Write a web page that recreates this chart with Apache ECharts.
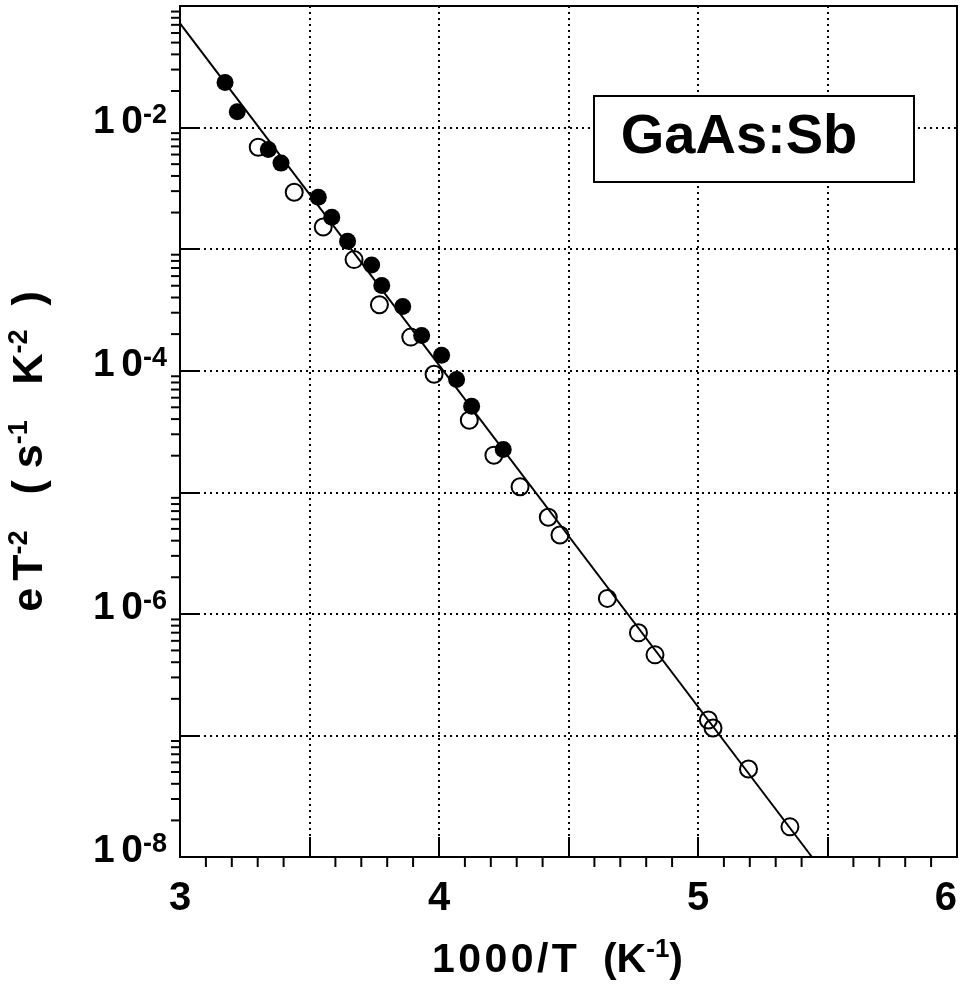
<!DOCTYPE html>
<html><head><meta charset="utf-8">
<script src="https://cdn.jsdelivr.net/npm/echarts@6/dist/echarts.min.js"></script>
<style>html,body{margin:0;padding:0;background:#fff}#c{width:966px;height:989px}</style>
</head><body><div id="c"></div>
<script>
// ---- data ----
const filledX = [3.174, 3.221, 3.341, 3.390, 3.534, 3.586, 3.647, 3.740, 3.779, 3.860, 3.933, 4.010, 4.068, 4.126, 4.248];
const filledY = [2.35e-2, 1.35e-2, 6.6e-3, 5.1e-3, 2.67e-3, 1.83e-3, 1.16e-3, 7.4e-4, 5.03e-4, 3.38e-4, 1.95e-4, 1.34e-4, 8.45e-5, 5.1e-5, 2.25e-5];
const openX = [3.302, 3.441, 3.553, 3.672, 3.770, 3.891, 3.981, 4.117, 4.212, 4.313, 4.422, 4.467, 4.650, 4.770, 4.834, 5.040, 5.058, 5.195, 5.355];
const openY = [6.9e-3, 2.94e-3, 1.52e-3, 8.2e-4, 3.49e-4, 1.89e-4, 9.35e-5, 3.92e-5, 2.02e-5, 1.11e-5, 6.23e-6, 4.45e-6, 1.34e-6, 6.98e-7, 4.6e-7, 1.34e-7, 1.15e-7, 5.3e-8, 1.77e-8];
const fitX = [3.0, 5.44];
const fitY = [7.2e-2, 1.0e-8];
// ---- tick definitions ----
const xTickLabels = [3, 4, 5, 6];
const xMinorTicks = [3.1, 3.2, 3.3, 3.4, 3.6, 3.7, 3.8, 3.9, 4.1, 4.2, 4.3, 4.4, 4.6, 4.7, 4.8, 4.9, 5.1, 5.2, 5.3, 5.4, 5.6, 5.7, 5.8, 5.9];
const yLabelExps = [-8, -6, -4, -2];
const yDecades = [-8, -7, -6, -5, -4, -3, -2];
const yMinorMultiples = [2, 3, 4, 5, 6, 7, 8, 9];
const boxText = 'GaAs:Sb';

const FONT = "'Liberation Sans', Arial, Helvetica, sans-serif";
const H = '\u200A';
const pairs = (xs, ys) => xs.map((x, i) => [x, ys[i]]);
const yMinorData = [];
yDecades.forEach(d => yMinorMultiples.forEach(m => yMinorData.push([3, m * Math.pow(10, d)])));
const xMinorData = xMinorTicks.map(v => [v, 1e-8]);

const chart = echarts.init(document.getElementById('c'), null, {renderer: 'canvas'});
const dotted = {color: '#000', width: 2, type: [2, 4]};
chart.setOption({
  animation: false,
  backgroundColor: '#fff',
  grid: {left: 180, right: 9, top: 6, bottom: 132, outerBoundsMode: 'none', containLabel: false,
         show: true, borderColor: '#000', borderWidth: 2, backgroundColor: 'transparent'},
  xAxis: {
    type: 'value', min: 3, max: 6, interval: 0.5,
    axisLine: {show: true, lineStyle: {color: '#000', width: 2}},
    axisTick: {show: true, inside: true, length: 20, lineStyle: {color: '#000', width: 2}},
    splitLine: {show: true, lineStyle: dotted},
    axisLabel: {
      margin: 22, color: '#000', fontSize: 40, fontWeight: 'bold', fontFamily: FONT,
      alignMaxLabel: 'right',
      formatter: v => xTickLabels.indexOf(Math.round(v * 10) / 10) >= 0 ? String(v) : ''
    },
    name: '{b|1' + H + '0' + H + '0' + H + '0' + H + '/' + H + 'T  ' + H + '(K}{s|-1}{b|)}',
    nameLocation: 'middle', nameGap: 80,
    nameTextStyle: {
      padding: [0, 22, 0, 0],
      rich: {
        b: {fontSize: 41, fontWeight: 'bold', fontFamily: FONT, color: '#000', verticalAlign: 'bottom', lineHeight: 44},
        s: {fontSize: 26, fontWeight: 'bold', fontFamily: FONT, color: '#000', verticalAlign: 'top', lineHeight: 26}
      }
    }
  },
  yAxis: {
    type: 'log', logBase: 10, min: 1e-8, max: 1e-1, splitNumber: 7,
    axisLine: {show: true, lineStyle: {color: '#000', width: 2}},
    axisTick: {show: true, inside: true, length: 20, lineStyle: {color: '#000', width: 2}},
    splitLine: {show: true, lineStyle: dotted},
    axisLabel: {
      margin: 13, color: '#000', padding: [0, 0, 12, 0],
      formatter: v => {
        const e = Math.round(Math.log10(v));
        return yLabelExps.indexOf(e) >= 0 ? '{b|1' + H + H + '0}{s|' + e + '}' : '';
      },
      rich: {
        b: {fontSize: 39, fontWeight: 'bold', fontFamily: FONT, color: '#000', verticalAlign: 'bottom', lineHeight: 40},
        s: {fontSize: 27, fontWeight: 'bold', fontFamily: FONT, color: '#000', verticalAlign: 'top', lineHeight: 26}
      }
    },
    name: '{b|e' + H + H + 'T}{s|-2}{b|   ( s}{s|-1}{b|   K}{s|-2}{b|  )}',
    nameLocation: 'middle', nameGap: 128, nameRotate: 90,
    nameTextStyle: {
      padding: [0, 40, 0, 0],
      rich: {
        b: {fontSize: 43, fontWeight: 'bold', fontFamily: FONT, color: '#000', verticalAlign: 'bottom', lineHeight: 46},
        s: {fontSize: 27, fontWeight: 'bold', fontFamily: FONT, color: '#000', verticalAlign: 'top', lineHeight: 26}
      }
    }
  },
  series: [
    {
      type: 'custom', silent: true, clip: false, z: 1,
      data: xMinorData,
      renderItem: (params, api) => {
        const p = api.coord([api.value(0), api.value(1)]);
        return {type: 'line', shape: {x1: p[0], y1: p[1], x2: p[0], y2: p[1] + 10}, style: {stroke: '#000', lineWidth: 2}};
      }
    },
    {
      type: 'custom', silent: true, clip: false, z: 1,
      data: yMinorData,
      renderItem: (params, api) => {
        const p = api.coord([api.value(0), api.value(1)]);
        return {type: 'line', shape: {x1: p[0] - 9, y1: p[1], x2: p[0], y2: p[1]}, style: {stroke: '#000', lineWidth: 2}};
      }
    },
    {
      type: 'line', data: pairs(fitX, fitY), showSymbol: false, symbol: 'none', z: 2, clip: true,
      lineStyle: {color: '#000', width: 2}
    },
    {
      type: 'scatter', data: pairs(openX, openY), symbol: 'circle', symbolSize: 17, z: 3,
      itemStyle: {color: 'rgba(0,0,0,0)', borderColor: '#000', borderWidth: 2, opacity: 1}
    },
    {
      type: 'scatter', data: pairs(filledX, filledY), symbol: 'circle', symbolSize: 17, z: 4,
      itemStyle: {color: '#000', opacity: 1}
    }
  ],
  graphic: [
    {type: 'rect', left: 593, top: 95, z: 10, shape: {width: 320, height: 86}, style: {fill: '#fff', stroke: '#000', lineWidth: 2}},
    {type: 'text', x: 739, y: 138, z: 11, style: {text: boxText, fontSize: 56, fontWeight: 'bold', fontFamily: FONT, fill: '#000', align: 'center', verticalAlign: 'middle'}}
  ]
});
</script>
</body></html>
